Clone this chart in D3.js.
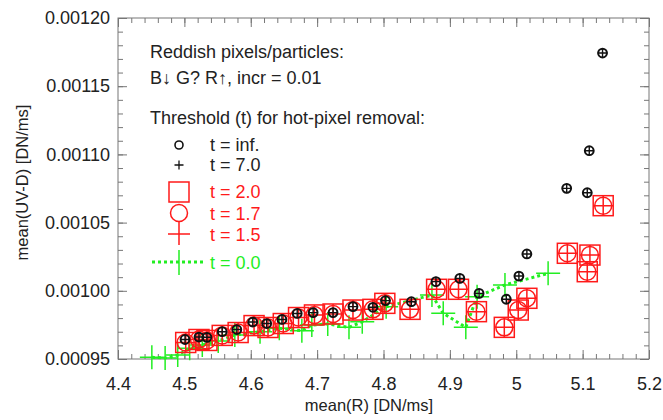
<!DOCTYPE html>
<html>
<head>
<meta charset="utf-8">
<script src="https://cdn.jsdelivr.net/npm/d3@7"></script>
<style>
  body { margin: 0; background: #fff; }
  text { font-family: "Liberation Sans", Arial, sans-serif; }
</style>
</head>
<body>
<div id="chart"></div>
<script>
// t = inf. and t = 7.0 (same points)
const blackX = [4.501, 4.522, 4.534, 4.557, 4.579, 4.603, 4.624, 4.647, 4.670, 4.694, 4.724, 4.754, 4.784, 4.803, 4.842, 4.879, 4.915, 4.944, 4.985, 5.004, 5.016, 5.076, 5.107, 5.110, 5.130];
const blackY = [0.0009643, 0.0009661, 0.0009659, 0.0009700, 0.0009716, 0.0009771, 0.0009760, 0.0009790, 0.0009834, 0.0009840, 0.0009840, 0.0009884, 0.0009879, 0.0009928, 0.0009920, 0.0010067, 0.0010091, 0.0009981, 0.0009938, 0.0010108, 0.0010270, 0.0010751, 0.0010719, 0.0011027, 0.0011743];
// t = 2.0, 1.7, 1.5 (same points)
const redX = [4.502, 4.522, 4.534, 4.557, 4.581, 4.605, 4.626, 4.649, 4.672, 4.696, 4.724, 4.754, 4.784, 4.802, 4.840, 4.880, 4.913, 4.940, 4.982, 5.003, 5.016, 5.077, 5.107, 5.111, 5.131];
const redY = [0.0009621, 0.0009643, 0.0009636, 0.0009673, 0.0009694, 0.0009745, 0.0009731, 0.0009760, 0.0009804, 0.0009823, 0.0009830, 0.0009859, 0.0009864, 0.0009908, 0.0009864, 0.0010011, 0.0010011, 0.0009847, 0.0009732, 0.0009859, 0.0009945, 0.0010275, 0.0010140, 0.0010262, 0.0010624];
// t = 0.0
const greenX = [4.451, 4.471, 4.490, 4.508, 4.527, 4.551, 4.576, 4.614, 4.643, 4.677, 4.692, 4.716, 4.748, 4.768, 4.804, 4.873, 4.890, 4.924, 4.941, 4.983, 5.048];
const greenY = [0.0009513, 0.0009507, 0.0009529, 0.0009578, 0.0009603, 0.0009632, 0.0009676, 0.0009700, 0.0009725, 0.0009707, 0.0009749, 0.0009757, 0.0009732, 0.0009773, 0.0009883, 0.0009969, 0.0009835, 0.0009732, 0.0009957, 0.0010043, 0.0010128];

const xTicks = [4.4, 4.5, 4.6, 4.7, 4.8, 4.9, 5.0, 5.1, 5.2];
const xTickLabels = ["4.4", "4.5", "4.6", "4.7", "4.8", "4.9", "5", "5.1", "5.2"];
const yTicks = [0.00095, 0.00100, 0.00105, 0.00110, 0.00115, 0.00120];
const yTickLabels = ["0.00095", "0.00100", "0.00105", "0.00110", "0.00115", "0.00120"];

const W = 663, H = 420;
const margin = {top: 18, right: 14, bottom: 61, left: 118};
const width = W - margin.left - margin.right,
      height = H - margin.top - margin.bottom;

const svg = d3.select("#chart").append("svg")
    .attr("width", W).attr("height", H);
const g = svg.append("g")
    .attr("transform", "translate(" + margin.left + "," + margin.top + ")");

const x = d3.scaleLinear().domain([4.4, 5.2]).range([0, width]);
const y = d3.scaleLinear().domain([0.00095, 0.00120]).range([height, 0]);

const xMinor = d3.range(4.4, 5.2001, 0.02);
const yMinor = d3.range(0.00095, 0.0012001, 0.00001);
const axisColor = "#777";

function styleAxis(sel) {
  sel.select(".domain").remove();
  sel.selectAll("line").attr("stroke", axisColor);
}

// minor ticks on all four sides
g.append("g").attr("transform", "translate(0," + height + ")")
  .call(d3.axisBottom(x).tickValues(xMinor).tickSize(-5).tickFormat("")).call(styleAxis);
g.append("g")
  .call(d3.axisTop(x).tickValues(xMinor).tickSize(-5).tickFormat("")).call(styleAxis);
g.append("g")
  .call(d3.axisLeft(y).tickValues(yMinor).tickSize(-5).tickFormat("")).call(styleAxis);
g.append("g").attr("transform", "translate(" + width + ",0)")
  .call(d3.axisRight(y).tickValues(yMinor).tickSize(-5).tickFormat("")).call(styleAxis);

// major ticks with labels
const xAxis = g.append("g").attr("transform", "translate(0," + height + ")")
  .call(d3.axisBottom(x).tickValues(xTicks).tickSize(-9).tickPadding(18)
    .tickFormat((d, i) => xTickLabels[i]));
xAxis.call(styleAxis);
xAxis.selectAll("text").attr("font-size", 18).attr("fill", "#222").attr("font-family", null);

const yAxis = g.append("g")
  .call(d3.axisLeft(y).tickValues(yTicks).tickSize(-9).tickPadding(8)
    .tickFormat((d, i) => yTickLabels[i]));
yAxis.call(styleAxis);
yAxis.selectAll("text").attr("font-size", 18).attr("fill", "#222").attr("font-family", null);

g.append("g").call(d3.axisTop(x).tickValues(xTicks).tickSize(-9).tickFormat("")).call(styleAxis);
g.append("g").attr("transform", "translate(" + width + ",0)")
  .call(d3.axisRight(y).tickValues(yTicks).tickSize(-9).tickFormat("")).call(styleAxis);

g.append("rect").attr("width", width).attr("height", height)
  .attr("fill", "none").attr("stroke", axisColor).attr("stroke-width", 1);

// axis titles
svg.append("text").attr("x", 369).attr("y", 411)
  .attr("text-anchor", "middle").attr("font-size", 16.5).attr("fill", "#222")
  .text("mean(R) [DN/ms]");
svg.append("text").attr("transform", "translate(28," + (margin.top + height / 2 - 6) + ") rotate(-90)")
  .attr("text-anchor", "middle").attr("font-size", 16.5).attr("fill", "#222")
  .text("mean(UV-D) [DN/ms]");

const red = "#ff1a1a", green = "#22ee22";

// t = 0.0 dotted line + plus markers
const greenPts = greenX.map((v, i) => [v, greenY[i]]);
g.append("path").datum(greenPts)
  .attr("d", d3.line().x(d => x(d[0])).y(d => y(d[1])))
  .attr("fill", "none").attr("stroke", green).attr("stroke-width", 3)
  .attr("stroke-dasharray", "3,3");
g.selectAll(".gplus").data(greenPts).enter().append("path")
  .attr("d", d => {
    const cx = x(d[0]), cy = y(d[1]), s = 12;
    return `M${cx - s},${cy}H${cx + s}M${cx},${cy - s}V${cy + s}`;
  })
  .attr("stroke", green).attr("stroke-width", 1.5);

// red: square, circle, plus
const redPts = redX.map((v, i) => [v, redY[i]]);
g.selectAll(".rsq").data(redPts).enter().append("rect")
  .attr("x", d => x(d[0]) - 10).attr("y", d => y(d[1]) - 10)
  .attr("width", 20).attr("height", 20)
  .attr("fill", "none").attr("stroke", red).attr("stroke-width", 1.5);
g.selectAll(".rci").data(redPts).enter().append("circle")
  .attr("cx", d => x(d[0])).attr("cy", d => y(d[1])).attr("r", 8.5)
  .attr("fill", "none").attr("stroke", red).attr("stroke-width", 1.5);
g.selectAll(".rpl").data(redPts).enter().append("path")
  .attr("d", d => {
    const cx = x(d[0]), cy = y(d[1]), s = 10;
    return `M${cx - s},${cy}H${cx + s}M${cx},${cy - s}V${cy + s}`;
  })
  .attr("stroke", red).attr("stroke-width", 1.5);

// black: circle + plus
const blackPts = blackX.map((v, i) => [v, blackY[i]]);
g.selectAll(".bci").data(blackPts).enter().append("circle")
  .attr("cx", d => x(d[0])).attr("cy", d => y(d[1])).attr("r", 4.4)
  .attr("fill", "none").attr("stroke", "#111").attr("stroke-width", 2);
g.selectAll(".bpl").data(blackPts).enter().append("path")
  .attr("d", d => {
    const cx = x(d[0]), cy = y(d[1]), s = 4.8;
    return `M${cx - s},${cy}H${cx + s}M${cx},${cy - s}V${cy + s}`;
  })
  .attr("stroke", "#111").attr("stroke-width", 1.4);

// legend
const leg = svg.append("g");
const legText = (tx, ty, str, col) => leg.append("text").attr("x", tx).attr("y", ty)
  .attr("font-size", 18).attr("fill", col).text(str);
legText(150, 58, "Reddish pixels/particles:", "#222");
legText(150, 84, "B\u2193 G? R\u2191, incr = 0.01", "#222");
legText(150, 124, "Threshold (t) for hot-pixel removal:", "#222");
legText(210, 151, "t = inf.", "#222");
legText(210, 171, "t = 7.0", "#222");
legText(210, 198, "t = 2.0", red);
legText(210, 220, "t = 1.7", red);
legText(210, 241, "t = 1.5", red);
legText(210, 269, "t = 0.0", green);

leg.append("circle").attr("cx", 179).attr("cy", 145).attr("r", 4)
  .attr("fill", "none").attr("stroke", "#111").attr("stroke-width", 1.6);
leg.append("path").attr("d", "M174.5,165H183.5M179,160.5V169.5")
  .attr("stroke", "#111").attr("stroke-width", 1.3);
leg.append("rect").attr("x", 169).attr("y", 182).attr("width", 20).attr("height", 20)
  .attr("fill", "none").attr("stroke", red).attr("stroke-width", 1.5);
leg.append("circle").attr("cx", 179).attr("cy", 213).attr("r", 8.5)
  .attr("fill", "none").attr("stroke", red).attr("stroke-width", 1.5);
leg.append("path").attr("d", "M168,234H190M179,222V245")
  .attr("stroke", red).attr("stroke-width", 1.5);
leg.append("path").attr("d", "M152,262H205")
  .attr("stroke", green).attr("stroke-width", 3).attr("stroke-dasharray", "3,3");
leg.append("path").attr("d", "M179,250V275")
  .attr("stroke", green).attr("stroke-width", 1.5);
</script>
</body>
</html>
